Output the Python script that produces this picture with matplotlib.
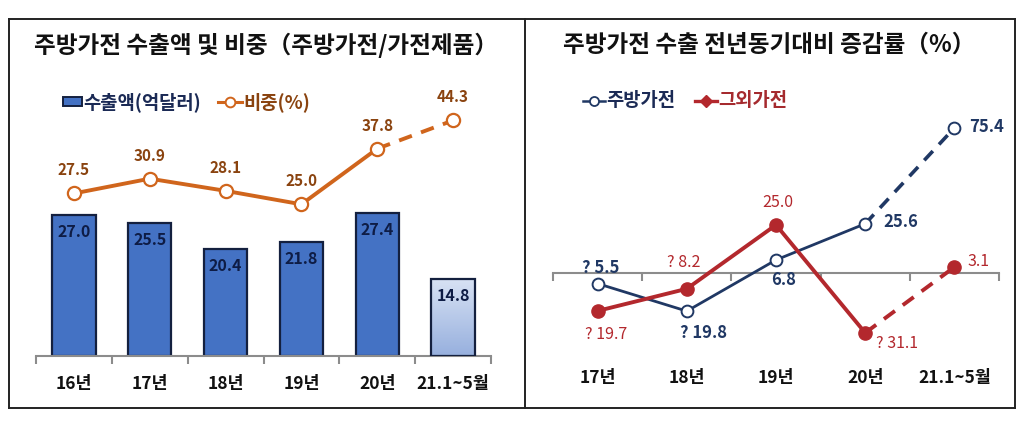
import numpy as np
import matplotlib
matplotlib.use("Agg")
import matplotlib.pyplot as plt
from matplotlib.patches import Rectangle
from matplotlib.lines import Line2D
from matplotlib.colors import LinearSegmentedColormap

plt.rcParams['font.family'] = ['Noto Sans CJK KR', 'DejaVu Sans']

# ---- data ----
left_cats = ['16년', '17년', '18년', '19년', '20년', '21.1~5월']
export_amt = [27.0, 25.5, 20.4, 21.8, 27.4, 14.8]      # 수출액(억달러)
share_pct = [27.5, 30.9, 28.1, 25.0, 37.8, 44.3]       # 비중(%)

right_cats = ['17년', '18년', '19년', '20년', '21.1~5월']
kitchen_yoy = [-5.5, -19.8, 6.8, 25.6, 75.4]           # 주방가전
other_yoy = [-19.7, -8.2, 25.0, -31.1, 3.1]            # 그외가전
kitchen_lbl = ['? 5.5', '? 19.8', '6.8', '25.6', '75.4']
other_lbl = ['? 19.7', '? 8.2', '25.0', '? 31.1', '3.1']

W, H = 1024, 422
fig = plt.figure(figsize=(W / 100, H / 100), dpi=100)

def fx(px):
    return px / W

def fy(py):
    return 1 - py / H

# frame of both panels
for xs, ys in [([9, 1015], [19, 19]), ([9, 1015], [408, 408]),
               ([9, 9], [19, 408]), ([1015, 1015], [19, 408]),
               ([525, 525], [19, 408])]:
    fig.add_artist(Line2D([fx(x) for x in xs], [fy(y) for y in ys],
                          color='#222222', lw=1.4))

NAVY = '#1B2A55'
BAR = '#4472C4'
ORANGE = '#D0651C'
BROWN = '#8A430F'
BLUE = '#203864'
RED = '#B3282D'
GRAY = '#8C8C8C'

# ---------------- left panel ----------------
fig.text(fx(266), fy(45), '주방가전 수출액 및 비중（주방가전/가전제품）',
         ha='center', va='center', fontsize=17, fontweight='bold', color='#111111')

ax = fig.add_axes([fx(36), fy(356), fx(491) - fx(36), fy(100) - fy(356)])
x = np.arange(len(left_cats))
bw = 0.57
bars = ax.bar(x[:-1], export_amt[:-1], width=bw, color=BAR,
              edgecolor='#14203F', lw=1.6, zorder=2)
# last bar: gradient fill
last = ax.bar(x[-1:], export_amt[-1:], width=bw, color='none',
              edgecolor='#14203F', lw=1.6, zorder=3)
grad = np.linspace(0, 1, 100).reshape(-1, 1)
cmap = LinearSegmentedColormap.from_list('g', ['#97B0DE', '#D8E2F4'])
im = ax.imshow(grad, cmap=cmap, aspect='auto', origin='lower',
               extent=[x[-1] - bw / 2, x[-1] + bw / 2, 0, export_amt[-1]], zorder=2)
im.set_clip_path(last[0])

for xi, v in zip(x, export_amt):
    ax.annotate(f'{v:.1f}', (xi, v), xytext=(0, -17), textcoords='offset pixels',
                ha='center', va='center', fontsize=11.5, fontweight='bold',
                color='#0E1C45', zorder=5)

ax.set_xlim(-0.5, len(left_cats) - 0.5)
ax.set_ylim(0, 49)
for s in ['top', 'right', 'left']:
    ax.spines[s].set_visible(False)
ax.spines['bottom'].set_color(GRAY)
ax.spines['bottom'].set_linewidth(1.5)
ax.set_yticks([])
ax.set_xticks(np.arange(-0.5, len(left_cats)))
ax.set_xticklabels([])
ax.tick_params(axis='x', length=6, width=1.5, color=GRAY, direction='out')
for xi, c in zip(x, left_cats):
    ax.text(xi, -(384 - 356) / 256, c, transform=ax.get_xaxis_transform(),
            ha='center', va='center', fontsize=12.5, fontweight='bold', color='#111111')

ax2 = ax.twinx()
ax2.set_ylim(-9.9, 49.0)
ax2.axis('off')
ax2.plot(x[:-1], share_pct[:-1], color=ORANGE, lw=2.8, zorder=3)
ax2.plot(x[-2:], share_pct[-2:], color=ORANGE, lw=2.8, ls=(0, (3.5, 2.5)), zorder=3)
ax2.plot(x, share_pct, ls='none', marker='o', ms=9.5, mfc='white', mec=ORANGE,
         mew=1.6, zorder=4)
for xi, v in zip(x, share_pct):
    ax2.annotate(f'{v:.1f}', (xi, v), xytext=(0, 23), textcoords='offset pixels',
                 ha='center', va='center', fontsize=11, fontweight='bold', color=BROWN)

# left legend
fig.add_artist(Rectangle((fx(63), fy(106)), fx(82) - fx(63), fy(97) - fy(106),
                         facecolor=BAR, edgecolor='#14203F', lw=1.4))
fig.text(fx(83), fy(102), '수출액(억달러)', ha='left', va='center',
         fontsize=13.5, fontweight='bold', color=NAVY)
fig.add_artist(Line2D([fx(218), fx(242)], [fy(102), fy(102)], color=ORANGE, lw=2.2))
fig.add_artist(Line2D([fx(230)], [fy(102)], ls='none', marker='o', ms=7,
                      mfc='white', mec=ORANGE, mew=1.4))
fig.text(fx(243), fy(102), '비중(%)', ha='left', va='center',
         fontsize=13.5, fontweight='bold', color=BROWN)

# ---------------- right panel ----------------
fig.text(fx(769), fy(45), '주방가전 수출 전년동기대비 증감률（%）',
         ha='center', va='center', fontsize=17, fontweight='bold', color='#111111')

bx = fig.add_axes([fx(553), fy(360), fx(999) - fx(553), fy(100) - fy(360)])
xr = np.arange(len(right_cats))
bx.set_xlim(-0.5, len(right_cats) - 0.5)
bx.set_ylim(-45.2, 89.9)
for s in ['top', 'right', 'left']:
    bx.spines[s].set_visible(False)
bx.spines['bottom'].set_position(('data', 0))
bx.spines['bottom'].set_color(GRAY)
bx.spines['bottom'].set_linewidth(1.5)
bx.set_yticks([])
bx.set_xticks(np.arange(-0.5, len(right_cats)))
bx.set_xticklabels([])
bx.tick_params(axis='x', length=6, width=1.5, color=GRAY, direction='out')
for xi, c in zip(xr, right_cats):
    bx.text(xi, -(378 - 360) / 260, c, transform=bx.get_xaxis_transform(),
            ha='center', va='center', fontsize=12.5, fontweight='bold', color='#111111')

bx.plot(xr[:-1], kitchen_yoy[:-1], color=BLUE, lw=2.0, zorder=3)
bx.plot(xr[-2:], kitchen_yoy[-2:], color=BLUE, lw=2.6, ls=(0, (3.5, 2.5)), zorder=3)
bx.plot(xr[:-1], other_yoy[:-1], color=RED, lw=2.8, zorder=3)
bx.plot(xr[-2:], other_yoy[-2:], color=RED, lw=2.8, ls=(0, (3.5, 2.5)), zorder=3)
bx.plot(xr, kitchen_yoy, ls='none', marker='o', ms=8.5, mfc='white', mec=BLUE,
        mew=1.4, zorder=4)
bx.plot(xr, other_yoy, ls='none', marker='o', ms=9.5, mfc=RED, mec=RED, zorder=4)

k_off = [(3, 16, 'center'), (17, -22, 'center'), (8, -20, 'center'),
         (18, 2, 'left'), (15, 1, 'left')]
o_off = [(9, -24, 'center'), (-3, 26, 'center'), (2, 22, 'center'),
         (32, -11, 'center'), (13, 6, 'left')]
for xi, v, t, (dx, dy, ha) in zip(xr, kitchen_yoy, kitchen_lbl, k_off):
    bx.annotate(t, (xi, v), xytext=(dx, dy), textcoords='offset pixels',
                ha=ha, va='center', fontsize=12, fontweight='bold', color=BLUE)
for xi, v, t, (dx, dy, ha) in zip(xr, other_yoy, other_lbl, o_off):
    bx.annotate(t, (xi, v), xytext=(dx, dy), textcoords='offset pixels',
                ha=ha, va='center', fontsize=11.5, color=RED)

# right legend
fig.add_artist(Line2D([fx(583), fx(605)], [fy(101), fy(101)], color=BLUE, lw=1.8))
fig.add_artist(Line2D([fx(594)], [fy(101)], ls='none', marker='o', ms=6.5,
                      mfc='white', mec=BLUE, mew=1.3))
fig.text(fx(606), fy(101), '주방가전', ha='left', va='center',
         fontsize=13.5, fontweight='bold', color=NAVY)
fig.add_artist(Line2D([fx(695), fx(717)], [fy(101), fy(101)], color=RED, lw=2.4))
fig.add_artist(Line2D([fx(706)], [fy(101)], ls='none', marker='D', ms=6,
                      mfc=RED, mec=RED))
fig.text(fx(718), fy(101), '그외가전', ha='left', va='center',
         fontsize=13.5, fontweight='bold', color='#A52A2E')

fig.savefig('out.png', dpi=100)
